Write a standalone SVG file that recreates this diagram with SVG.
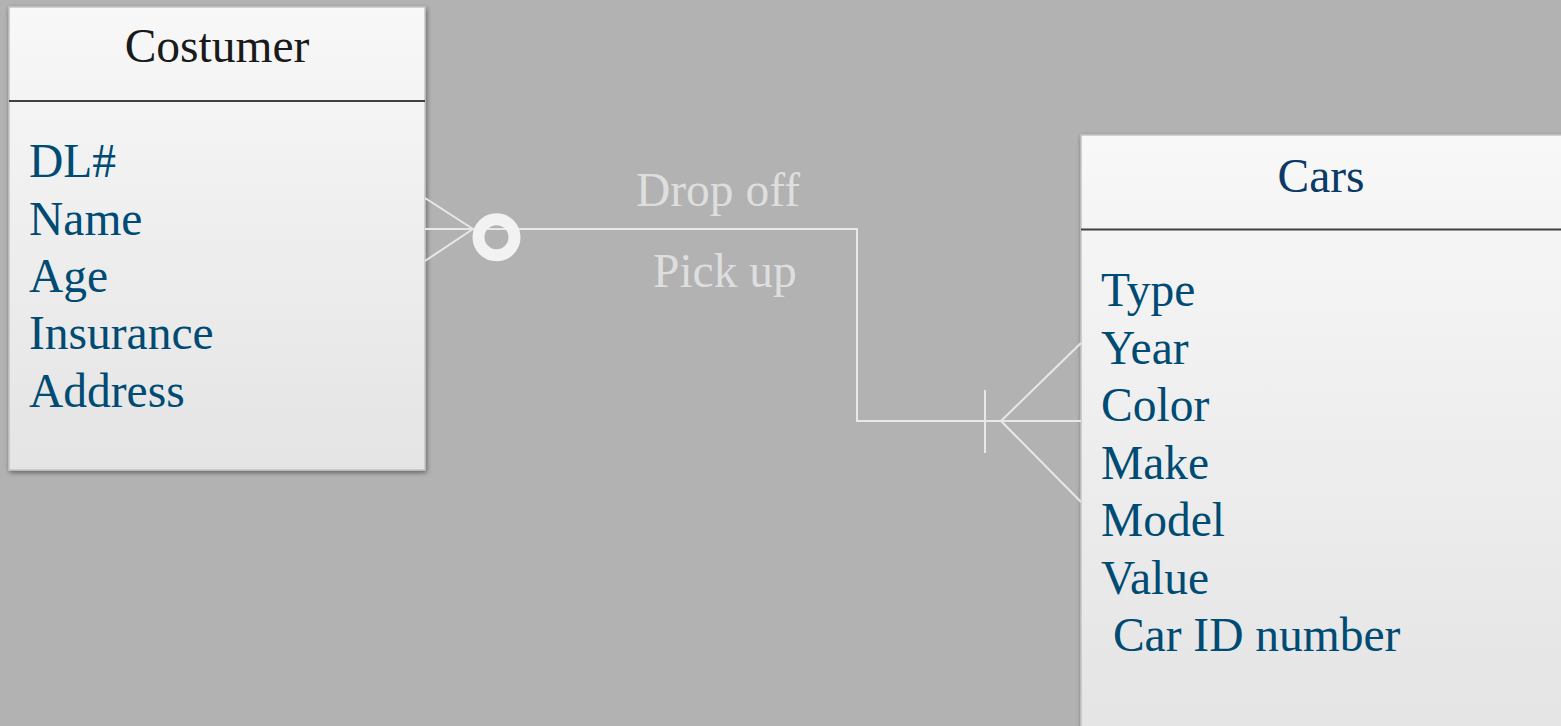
<svg xmlns="http://www.w3.org/2000/svg" width="1561" height="726" viewBox="0 0 1561 726">
<defs>
<linearGradient id="boxg" x1="0" y1="0" x2="0" y2="1">
<stop offset="0" stop-color="#f8f8f8"/>
<stop offset="1" stop-color="#e4e4e4"/>
</linearGradient>
<filter id="sh" x="-10%" y="-10%" width="120%" height="120%">
<feGaussianBlur in="SourceAlpha" stdDeviation="2.5"/>
<feOffset dx="1" dy="2" result="b"/>
<feComponentTransfer><feFuncA type="linear" slope="0.45"/></feComponentTransfer>
<feMerge><feMergeNode/><feMergeNode in="SourceGraphic"/></feMerge>
</filter>
<style>
.box{fill:url(#boxg);stroke:#c4c4c4;stroke-width:1.5}
.sep{stroke:#404040;stroke-width:2}
.t{font-family:"Liberation Serif","Times New Roman",serif;font-size:47.5px}
.attr{fill:#004b73}
.lbl{fill:#dedede}
.conn{stroke:#e8e8e8;stroke-width:2;fill:none}
</style>
</defs>
<rect width="1561" height="726" fill="#b2b2b2"/>
<g id="costumer">
<rect class="box" x="9" y="7" width="416" height="463" filter="url(#sh)"/>
<line class="sep" x1="9" y1="101" x2="425" y2="101"/>
<text class="t" x="217" y="62" text-anchor="middle" fill="#1a1a1a">Costumer</text>
<text class="t attr" x="29" y="177">DL#</text>
<text class="t attr" x="29" y="234.5">Name</text>
<text class="t attr" x="29" y="292">Age</text>
<text class="t attr" x="29" y="349">Insurance</text>
<text class="t attr" x="29" y="406.5">Address</text>
</g>
<g id="cars">
<rect class="box" x="1081" y="135" width="484" height="600" filter="url(#sh)"/>
<line class="sep" x1="1081" y1="229.5" x2="1561" y2="229.5"/>
<text class="t" x="1321" y="191.5" text-anchor="middle" fill="#0a3a66">Cars</text>
<text class="t attr" x="1101" y="306">Type</text>
<text class="t attr" x="1101" y="363.5">Year</text>
<text class="t attr" x="1101" y="421">Color</text>
<text class="t attr" x="1101" y="478.5">Make</text>
<text class="t attr" x="1101" y="536">Model</text>
<text class="t attr" x="1101" y="593.5">Value</text>
<text class="t attr" x="1101" y="651" xml:space="preserve"> Car ID number</text>
</g>
<g id="connectors">
<polyline class="conn" points="425,229 857,229 857,421 1081,421"/>
<line class="conn" x1="425" y1="198" x2="473" y2="229"/>
<line class="conn" x1="425" y1="261" x2="473" y2="229"/>
<circle cx="496.5" cy="237.3" r="18" fill="none" stroke="#f2f2f2" stroke-width="12"/>
<line class="conn" x1="985" y1="390" x2="985" y2="453"/>
<line class="conn" x1="1081" y1="343" x2="1001" y2="421"/>
<line class="conn" x1="1081" y1="502" x2="1001" y2="421"/>
<text class="t lbl" x="636" y="206">Drop off</text>
<text class="t lbl" x="653" y="287">Pick up</text>
</g>
</svg>
